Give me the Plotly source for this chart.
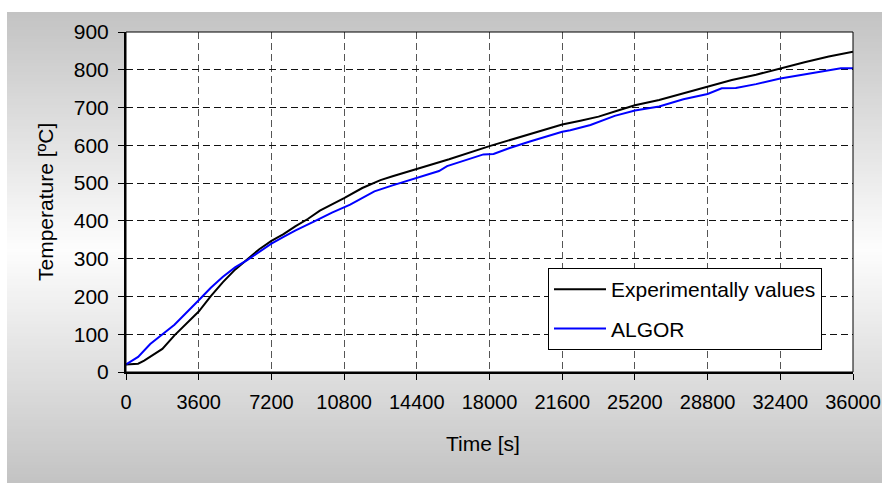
import plotly.graph_objects as go

# ---------------- data ----------------
exp_time = [0, 600, 900, 1800, 2400, 3600, 4200, 4800, 5400, 6000, 6600, 7200, 7800, 8400,
            9000, 9600, 10800, 11700, 12600, 13200, 14400, 16000, 18000, 19000, 20000, 21600,
            22500, 23400, 24400, 25200, 26400, 27600, 28800, 30000, 31200, 32400, 33600,
            34800, 36000]
exp_temp = [20, 22, 30, 61, 97, 160, 201, 238, 271, 297, 325, 347, 365, 386,
            405, 427, 460, 487, 508, 518, 537, 563, 598, 614, 630, 655,
            665, 676, 693, 706, 720, 738, 756, 773, 787, 804, 820,
            835, 848]

algor_time = [0, 600, 1200, 2400, 3600, 4200, 4800, 5400, 6000, 6600, 7200, 7800, 8400,
              9300, 10200, 11100, 11900, 12300, 13200, 14400, 15500, 15900, 17700, 18200,
              19000, 20000, 21000, 21600, 22000, 23000, 24200, 25200, 26400, 27600, 28800,
              29500, 30200, 31200, 32400, 33600, 34800, 35400, 36000]
algor_temp = [20, 40, 74, 125, 190, 223, 252, 277, 296, 318, 340, 358, 375,
              398, 422, 443, 465, 478, 494, 513, 532, 545, 576, 577,
              593, 610, 627, 636, 640, 654, 678, 692, 703, 722, 736,
              751, 752, 762, 777, 787, 797, 804, 804]

x_ticks = [0, 3600, 7200, 10800, 14400, 18000, 21600, 25200, 28800, 32400, 36000]
y_ticks = [0, 100, 200, 300, 400, 500, 600, 700, 800, 900]

series_names = ["Experimentally values", "ALGOR"]
x_title = "Time [s]"
y_title = "Temperature [ºC]"

# ---------------- layout geometry (page pixels) ----------------
W, H = 882, 483
PL, PR, PT, PB = 126, 853, 32, 372          # plot area in pixels
L, T = PL, PT
R, B = W - PR, H - PB
pw, ph = PR - PL, PB - PT


def px2paper_x(px):
    return (px - PL) / pw


def px2paper_y(py):
    return (PB - py) / ph


FONT = "Liberation Sans, Arial, sans-serif"
FS = 21

fig = go.Figure()
fig.add_trace(go.Scatter(x=exp_time, y=exp_temp, mode="lines", name=series_names[0],
                         line=dict(color="#000000", width=2), legendgroup="a"))
fig.add_trace(go.Scatter(x=algor_time, y=algor_temp, mode="lines", name=series_names[1],
                         line=dict(color="#0000ff", width=2), legendgroup="b"))

# gradient background (grey -> white -> grey), drawn as thin bands
shapes = []
top_px, bot_px, mid_px = 12, H, 250
step = 3
py = top_px
while py < bot_px:
    yc = py + step / 2
    if yc <= mid_px:
        f = (yc - top_px) / (mid_px - top_px)
    else:
        f = (bot_px - yc) / (bot_px - mid_px)
    c = int(round(195 + (253 - 195) * f))
    col = f"rgb({c},{c},{c})"
    shapes.append(dict(type="rect", xref="paper", yref="paper",
                       x0=px2paper_x(7), x1=px2paper_x(W + 4),
                       y0=px2paper_y(min(py + step + 0.5, bot_px + 4)), y1=px2paper_y(py),
                       fillcolor=col, line=dict(width=0), layer="below"))
    py += step
# white plot area on top of bands
shapes.append(dict(type="rect", xref="paper", yref="paper", x0=0, x1=1, y0=0, y1=1,
                   fillcolor="white", line=dict(width=0), layer="below"))
# thin plot border
shapes.append(dict(type="rect", xref="paper", yref="paper", x0=0, x1=1, y0=0, y1=1,
                   fillcolor="rgba(0,0,0,0)", line=dict(color="black", width=1), layer="above"))

annotations = [
    dict(text=x_title, xref="paper", yref="paper", x=px2paper_x(483), y=px2paper_y(443),
         showarrow=False, font=dict(family=FONT, size=FS, color="black"),
         xanchor="center", yanchor="middle"),
    dict(text=y_title, xref="paper", yref="paper", x=px2paper_x(45), y=px2paper_y(202),
         showarrow=False, textangle=-90, font=dict(family=FONT, size=FS, color="black"),
         xanchor="center", yanchor="middle"),
]

fig.update_layout(
    width=W, height=H,
    margin=dict(l=L, r=R, t=T, b=B, autoexpand=False),
    paper_bgcolor="white", plot_bgcolor="white",
    font=dict(family=FONT, size=FS, color="black"),
    shapes=shapes, annotations=annotations,
    showlegend=True,
    legend=dict(x=px2paper_x(548), y=px2paper_y(268), xanchor="left", yanchor="top",
                bgcolor="white", bordercolor="black", borderwidth=1,
                font=dict(family=FONT, size=FS, color="black"),
                itemwidth=52, tracegroupgap=9, traceorder="grouped"),
)
fig.update_xaxes(range=[0, 36000], tickvals=x_ticks, ticktext=[str(v) for v in x_ticks],
                 showline=True, linecolor="black", linewidth=1.5,
                 ticks="outside", ticklen=6, tickcolor="black", tickwidth=1,
                 ticklabelstandoff=5,
                 showgrid=True, gridcolor="#555555", gridwidth=1, griddash="7px,4px",
                 zeroline=False, tickfont=dict(family=FONT, size=20, color="black"))
fig.update_yaxes(range=[0, 900], tickvals=y_ticks, ticktext=[str(v) for v in y_ticks],
                 showline=True, linecolor="black", linewidth=2,
                 ticks="outside", ticklen=6, tickcolor="black", tickwidth=1,
                 ticklabelstandoff=5,
                 showgrid=True, gridcolor="#111111", gridwidth=1, griddash="7px,4px",
                 zeroline=False, tickfont=dict(family=FONT, size=FS, color="black"))

# remove the page's default body margin so the 882x483 figure fills the window exactly
page_css = ("document.documentElement.style.overflow='hidden';"
            "document.body.style.margin='0';"
            "document.body.style.overflow='hidden';")

fig.write_html("out.html", post_script=page_css, config={"displayModeBar": False})
